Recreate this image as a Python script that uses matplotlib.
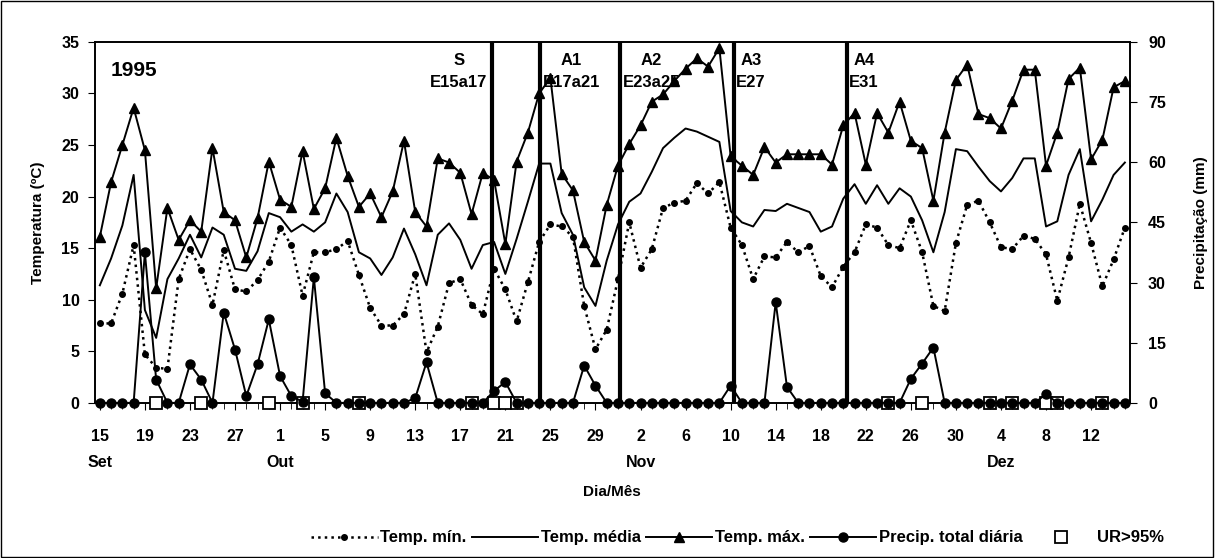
import numpy as np
import matplotlib
matplotlib.use('Agg')
import matplotlib.pyplot as plt
from matplotlib.patches import Rectangle

plt.rcParams['font.family'] = ['Liberation Sans', 'DejaVu Sans']
plt.rcParams['font.weight'] = 'bold'

# daily values, 15 Sep 1995 to 15 Dec 1995
temp_max = [16.1, 21.4, 25.0, 28.6, 24.5, 11.1, 18.9, 15.8, 17.7, 16.6,
            24.7, 18.5, 17.7, 14.1, 17.9, 23.4, 19.7, 19.0, 24.4, 18.8,
            20.8, 25.7, 22.0, 19.0, 20.3, 18.0, 20.5, 25.4, 18.5, 17.1,
            23.7, 23.3, 22.3, 18.3, 22.3, 21.6, 15.4, 23.4, 26.2, 30.0,
            31.5, 22.2, 20.6, 15.6, 13.8, 19.2, 23.0, 25.1, 26.9, 29.2,
            29.9, 31.2, 32.4, 33.4, 32.6, 34.4, 23.9, 23.0, 22.1, 24.8,
            23.3, 24.1, 24.1, 24.1, 24.1, 23.1, 26.9, 28.1, 23.1, 28.1,
            26.2, 29.2, 25.4, 24.7, 19.6, 26.2, 31.3, 32.8, 28.0, 27.6,
            26.6, 29.3, 32.3, 32.3, 23.0, 26.2, 31.4, 32.5, 23.6, 25.5,
            30.6, 31.2]
temp_med = [11.4, 14.0, 17.2, 22.1, 9.0, 6.3, 12.0, 14.0, 16.3, 14.1,
            17.0, 16.3, 13.0, 12.8, 14.7, 18.4, 18.0, 16.6, 17.3, 16.6,
            17.5, 20.3, 18.5, 14.6, 14.0, 12.4, 14.1, 16.9, 14.4, 11.4,
            16.3, 17.4, 15.8, 13.0, 15.3, 15.6, 12.5, 15.9, 19.5, 23.2,
            23.2, 18.4, 16.3, 11.2, 9.4, 13.8, 17.3, 19.5, 20.3, 22.4,
            24.7, 25.7, 26.6, 26.3, 25.8, 25.3, 18.6, 17.5, 17.1, 18.7,
            18.6, 19.3, 18.9, 18.5, 16.6, 17.1, 19.8, 21.2, 19.3, 21.1,
            19.3, 20.8, 20.0, 17.7, 14.6, 18.5, 24.6, 24.4, 22.9, 21.5,
            20.5, 21.8, 23.7, 23.7, 17.1, 17.6, 22.1, 24.6, 17.6, 19.7,
            22.1, 23.3]
temp_min = [7.7, 7.7, 10.6, 15.3, 4.7, 3.4, 3.3, 12.0, 14.9, 12.9,
            9.5, 14.8, 11.0, 10.8, 11.9, 13.7, 17.0, 15.3, 10.4, 14.6,
            14.6, 14.9, 15.7, 12.4, 9.2, 7.5, 7.5, 8.6, 12.5, 4.9,
            7.4, 11.6, 12.0, 9.5, 8.6, 13.0, 11.0, 7.9, 11.7, 15.6,
            17.3, 17.1, 16.1, 9.4, 5.2, 7.1, 12.0, 17.5, 13.1, 14.9,
            18.9, 19.4, 19.6, 21.3, 20.3, 21.4, 17.0, 15.3, 12.0, 14.2,
            14.1, 15.6, 14.6, 15.2, 12.3, 11.2, 13.2, 14.6, 17.3, 17.0,
            15.3, 15.0, 17.7, 14.6, 9.4, 8.9, 15.5, 19.2, 19.6, 17.5,
            15.1, 14.9, 16.2, 15.9, 14.4, 9.9, 14.1, 19.3, 15.5, 11.3,
            13.9, 17.0]
precip = [0, 0, 0, 0, 37.5, 5.8, 0, 0, 9.6, 5.8,
          0, 22.5, 13.3, 1.7, 9.6, 20.8, 6.7, 1.7, 0.3, 31.3,
          2.4, 0, 0, 0, 0, 0, 0, 0, 1.2, 10.1,
          0, 0, 0, 0, 0, 3.0, 5.2, 0, 0, 0,
          0, 0, 0, 9.3, 4.3, 0, 0, 0, 0, 0,
          0, 0, 0, 0, 0, 0, 4.3, 0, 0, 0,
          25.1, 4.0, 0, 0, 0, 0, 0, 0, 0, 0,
          0, 0, 6.0, 9.8, 13.8, 0, 0, 0, 0, 0,
          0, 0, 0, 0, 2.2, 0, 0, 0, 0, 0,
          0, 0]
# days (index from 15 Sep) with relative humidity > 95%
ur_days = [5, 9, 15, 18, 23, 33, 35, 36, 37, 70, 73, 79, 81, 84, 85, 89]

tick_labels = ['15\nSet', '19', '23', '27', '1\nOut', '5', '9', '13', '17', '21',
               '25', '29', '2\nNov', '6', '10', '14', '18', '22', '26', '30',
               '4\nDez', '8', '12']

# sampling events
event_days = [34.8, 39.1, 46.2, 56.3, 66.3]
event_names = ['S\nE15a17', 'A1\nE17a21', 'A2\nE23a25', 'A3\nE27', 'A4\nE31']

days = np.arange(len(temp_max))

fig = plt.figure(figsize=(12.15, 5.58), dpi=100)
ax = fig.add_axes([0.078, 0.278, 0.852, 0.647])
ax2 = ax.twinx()

ax.plot(days, temp_min, ':', color='black', lw=1.8, marker='o', ms=4,
        label='Temp. mín.', zorder=3)
ax.plot(days, temp_med, '-', color='black', lw=1.4, label='Temp. média', zorder=3)
ax.plot(days, temp_max, '-', color='black', lw=1.4, marker='^', ms=7,
        label='Temp. máx.', zorder=3)

ax2.plot(ur_days, [0] * len(ur_days), 's', mfc='white', mec='black', mew=1.3,
         ms=9, label='UR>95%', zorder=3, clip_on=False)
ax2.plot(days, precip, '-', color='black', lw=1.4, marker='o', ms=6.5,
         label='Precip. total diária', zorder=4, clip_on=False)

for xd, name in zip(event_days, event_names):
    ax.axvline(xd, color='black', lw=3, zorder=5)
    if name.startswith('S'):
        ax.text(xd - 0.4, 33.9, name, ha='right', va='top', fontsize=12,
                fontweight='bold', multialignment='center', linespacing=1.55)
    else:
        ax.text(xd + 0.2, 33.9, name, ha='left', va='top', fontsize=12,
                fontweight='bold', multialignment='center', linespacing=1.55)

ax.text(1.0, 32.2, '1995', fontsize=15, fontweight='bold', va='center')

ax.set_xlim(-0.45, 91.45)
ax.set_ylim(0, 35)
ax2.set_ylim(0, 90)
ax.set_yticks(np.arange(0, 36, 5))
ax2.set_yticks(np.arange(0, 91, 15))
ax.set_xticks(np.arange(0, 92, 4))
ax.set_xticklabels(tick_labels)
ax.set_xticks(days, minor=True)

ax.tick_params(axis='x', which='major', length=5, pad=14, labelsize=11.5)
ax.tick_params(axis='x', which='minor', length=4)
ax.tick_params(axis='y', length=5, labelsize=11.5, pad=6)
ax2.tick_params(axis='y', length=5, labelsize=11.5, pad=8)
for t in ax.get_xticklabels():
    t.set_linespacing(1.9)
    t.set_fontweight('bold')
for t in ax.get_yticklabels() + ax2.get_yticklabels():
    t.set_fontweight('bold')

for sp in list(ax.spines.values()) + list(ax2.spines.values()):
    sp.set_linewidth(1.2)

ax.set_ylabel('Temperatura (ºC)', fontsize=11, fontweight='bold', labelpad=12)
ax2.set_ylabel('Precipitação (mm)', fontsize=11, fontweight='bold', labelpad=20)
ax.set_xlabel('Dia/Mês', fontsize=11, fontweight='bold', labelpad=11)

h1, l1 = ax.get_legend_handles_labels()
h2, l2 = ax2.get_legend_handles_labels()
handles = h1 + [h2[1], h2[0]]
labels = l1 + [l2[1], l2[0]]
fig.legend(handles, labels, loc='center', bbox_to_anchor=(0.607, 0.036), ncol=5,
           frameon=False, handlelength=4.0, columnspacing=0.3,
           handletextpad=0.15, prop={'weight': 'bold', 'size': 12})

fig.patches.append(Rectangle((0.001, 0.002), 0.997, 0.996, transform=fig.transFigure,
                             fill=False, edgecolor='black', lw=1))

fig.savefig('out.png', dpi=100)
